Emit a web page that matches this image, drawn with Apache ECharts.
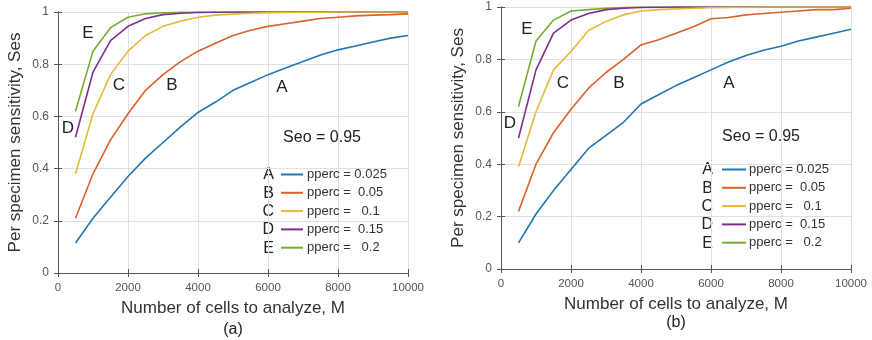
<!DOCTYPE html>
<html>
<head>
<meta charset="utf-8">
<script src="https://cdn.jsdelivr.net/npm/echarts@6/dist/echarts.min.js"></script>
<style>
  html, body { margin: 0; padding: 0; background: #fff; }
  #chart { width: 872px; height: 340px; }
</style>
</head>
<body>
<div id="chart"></div>
<script>
// ── Data ──────────────────────────────────────────────────────────────────────
const cellsM = [500, 1000, 1500, 2000, 2500, 3000, 3500, 4000, 4500, 5000,
  5500, 6000, 6500, 7000, 7500, 8000, 8500, 9000, 9500, 10000]

const seriesNames = ['pperc = 0.025', 'pperc =  0.05', 'pperc =   0.1', 'pperc =  0.15', 'pperc =   0.2']
const curveLetters = ['A', 'B', 'C', 'D', 'E']
const colors = ['#1f77b4', '#d9622b', '#e8b83a', '#7e2f8e', '#77ac30']

// panel (a): analytic curves
const sesA_a = [0.115, 0.21, 0.29, 0.37, 0.44, 0.50, 0.56, 0.615, 0.655, 0.70,
  0.73, 0.76, 0.785, 0.81, 0.835, 0.855, 0.87, 0.885, 0.90, 0.91]
const sesB_a = [0.21, 0.38, 0.51, 0.61, 0.70, 0.76, 0.81, 0.85, 0.88, 0.91,
  0.93, 0.945, 0.955, 0.965, 0.975, 0.98, 0.985, 0.988, 0.99, 0.993]
const sesC_a = [0.38, 0.61, 0.76, 0.85, 0.91, 0.945, 0.965, 0.98, 0.988, 0.992,
  0.995, 0.997, 0.998, 0.999, 0.999, 1, 1, 1, 1, 1]
const sesD_a = [0.52, 0.77, 0.89, 0.945, 0.975, 0.99, 0.995, 0.998, 0.999, 1,
  1, 1, 1, 1, 1, 1, 1, 1, 1, 1]
const sesE_a = [0.62, 0.85, 0.94, 0.98, 0.993, 0.997, 0.999, 1, 1, 1,
  1, 1, 1, 1, 1, 1, 1, 1, 1, 1]

// panel (b): simulated curves
const sesA_b = [0.10, 0.21, 0.30, 0.38, 0.46, 0.51, 0.56, 0.63, 0.665, 0.70,
  0.73, 0.76, 0.79, 0.815, 0.835, 0.85, 0.87, 0.885, 0.90, 0.915]
const sesB_b = [0.22, 0.40, 0.52, 0.61, 0.69, 0.75, 0.80, 0.855, 0.875, 0.90,
  0.925, 0.955, 0.96, 0.97, 0.975, 0.98, 0.985, 0.99, 0.99, 0.995]
const sesC_b = [0.39, 0.60, 0.76, 0.83, 0.91, 0.945, 0.97, 0.985, 0.99, 0.993,
  0.995, 0.997, 0.998, 0.999, 1, 1, 1, 1, 1, 1]
const sesD_b = [0.50, 0.76, 0.90, 0.95, 0.975, 0.99, 0.995, 0.998, 0.999, 1,
  1, 1, 1, 1, 1, 1, 1, 1, 1, 1]
const sesE_b = [0.62, 0.87, 0.95, 0.985, 0.99, 0.995, 0.998, 1, 1, 1,
  1, 1, 1, 1, 1, 1, 1, 1, 1, 1]

const panelA = [sesA_a, sesB_a, sesC_a, sesD_a, sesE_a]
const panelB = [sesA_b, sesB_b, sesC_b, sesD_b, sesE_b]

// ── Layout ────────────────────────────────────────────────────────────────────
const FONT = 'Liberation Sans, Arial, sans-serif'
const AXIS_COLOR = '#555'
const grids = [
  { left: 58, top: 12, width: 350, height: 261 },
  { left: 501, top: 7, width: 350, height: 262 },
]

const tickStyle = { inside: true, length: 4, lineStyle: { color: AXIS_COLOR } }

function xAxisFor(i) {
  return {
    gridIndex: i, type: 'value', min: 0, max: 10000, interval: 2000,
    name: 'Number of cells to analyze, M', nameLocation: 'middle', nameGap: 27,
    nameTextStyle: { fontSize: 17, color: '#333', fontFamily: FONT },
    axisLine: { lineStyle: { color: AXIS_COLOR } },
    axisTick: tickStyle,
    axisLabel: { fontSize: 11.5, color: '#555', fontFamily: FONT, margin: 9, formatter: v => String(v) },
    splitLine: { show: true, lineStyle: { color: '#e0e0e0' } },
  }
}

function yAxisFor(i) {
  return {
    gridIndex: i, type: 'value', min: 0, max: 1, interval: 0.2,
    name: 'Per specimen sensitivity, Ses', nameLocation: 'middle', nameGap: 34,
    nameTextStyle: { fontSize: 17, color: '#333', fontFamily: FONT },
    axisLine: { lineStyle: { color: AXIS_COLOR } },
    axisTick: tickStyle,
    axisLabel: { fontSize: 12, color: '#555', fontFamily: FONT, margin: 9, formatter: v => String(v) },
    splitLine: { show: true, lineStyle: { color: '#e0e0e0' } },
  }
}

// mirrored axes on top / right, ticks only (MATLAB box style)
function mirrorX(i) {
  return {
    gridIndex: i, type: 'value', min: 0, max: 10000, interval: 2000, position: 'top',
    axisLine: { lineStyle: { color: AXIS_COLOR } }, axisTick: tickStyle,
    axisLabel: { show: false }, splitLine: { show: false },
  }
}
function mirrorY(i) {
  return {
    gridIndex: i, type: 'value', min: 0, max: 1, interval: 0.2, position: 'right',
    axisLine: { lineStyle: { color: AXIS_COLOR } }, axisTick: tickStyle,
    axisLabel: { show: false }, splitLine: { show: false },
  }
}

function buildSeries(panel, idx) {
  return panel.map((vals, k) => ({
    type: 'line', name: seriesNames[k],
    xAxisIndex: idx, yAxisIndex: idx,
    data: cellsM.map((m, j) => [m, vals[j]]),
    showSymbol: false, symbol: 'none',
    lineStyle: { width: 1.6, color: colors[k] },
    itemStyle: { color: colors[k] },
    z: 10 - k,
  }))
}

function legendFor(left, top, iconW, textGap) {
  return {
    orient: 'vertical', left, top, padding: 0,
    data: seriesNames, icon: 'rect', itemWidth: iconW, itemHeight: 2, itemGap: 5.3,
    textStyle: { fontSize: 13, color: '#333', fontFamily: FONT, padding: [0, 0, 0, textGap - 5] },
    selectedMode: false,
  }
}

function txt(x, y, text, size, align) {
  return {
    type: 'text', x, y,
    style: { text, fontSize: size, fill: '#222', fontFamily: FONT, align: align || 'center', verticalAlign: 'middle' },
  }
}

// curve annotations, legend letters and panel captions
const graphics = [
  txt(88, 33, 'E', 17), txt(119, 85, 'C', 17), txt(172, 85, 'B', 17),
  txt(282, 87, 'A', 17), txt(68, 128, 'D', 17),
  txt(322, 138, 'Seo = 0.95', 16),
  txt(233, 330, '(a)', 16),
  txt(527, 29, 'E', 17), txt(563, 83, 'C', 17), txt(619, 83, 'B', 17),
  txt(729, 83, 'A', 17), txt(510, 123, 'D', 17),
  txt(761, 137, 'Seo = 0.95', 16),
  txt(676, 323, '(b)', 16),
]
curveLetters.forEach((l, k) => {
  graphics.push(txt(274, 175 + k * 18.3, l, 16, 'right'))
  graphics.push(txt(713, 170 + k * 18.3, l, 16, 'right'))
})

const chart = echarts.init(document.getElementById('chart'))
chart.setOption({
  animation: false,
  grid: grids.map(g => ({ ...g, show: false })),
  xAxis: [xAxisFor(0), xAxisFor(1), mirrorX(0), mirrorX(1)],
  yAxis: [yAxisFor(0), yAxisFor(1), mirrorY(0), mirrorY(1)],
  legend: [legendFor(281, 168, 22, 4), legendFor(722, 163, 24, 3)],
  series: [...buildSeries(panelA, 0), ...buildSeries(panelB, 1)],
  graphic: graphics,
})
</script>
</body>
</html>
